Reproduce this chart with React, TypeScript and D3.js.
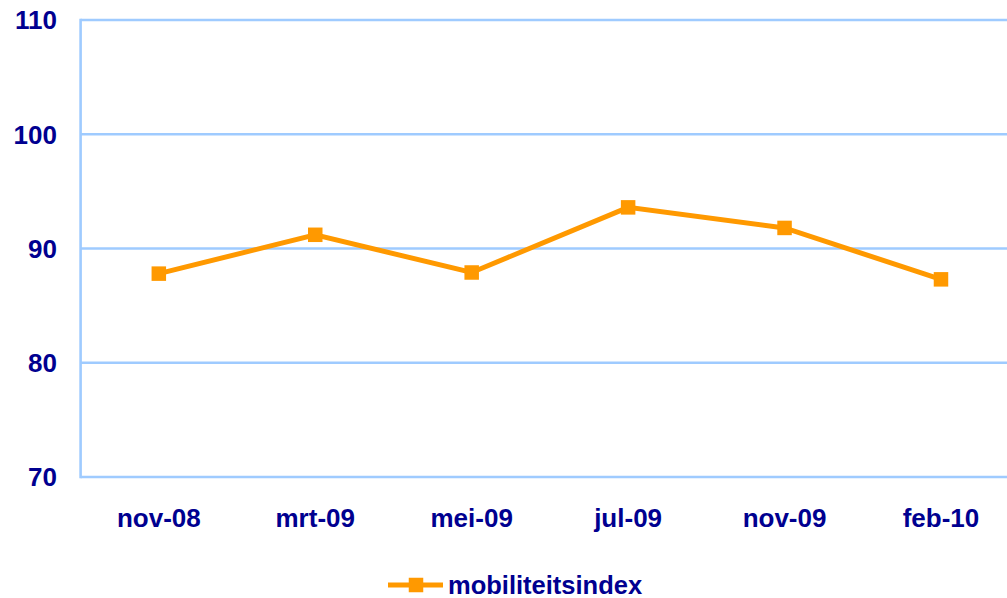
import React from "react";
import * as d3 from "d3";

const categories = ["nov-08", "mrt-09", "mei-09", "jul-09", "nov-09", "feb-10"];
const values = [87.8, 91.2, 87.9, 93.6, 91.8, 87.3];
const yTicks = [70, 80, 90, 100, 110];
const seriesName = "mobiliteitsindex";

const W = 1007;
const H = 598;
const left = 80.6;
const right = 1019.2;
const top = 20;
const bottom = 477;
const orange = "#FF9900";
const grid = "#9FCBFF";
const textColor = "#000090";
const font = "'Liberation Sans', Arial, sans-serif";

export default function App() {
  const x = d3.scaleBand<string>().domain(categories).range([left, right]);
  const y = d3.scaleLinear().domain([70, 110]).range([bottom, top]);
  const cx = (c: string) => (x(c) as number) + x.bandwidth() / 2;
  const line = d3
    .line<number>()
    .x((_, i) => cx(categories[i]))
    .y((d) => y(d));
  const ms = 14.5;
  return (
    <svg
      width={W}
      height={H}
      style={{ position: "absolute", left: 0, top: 0, display: "block", background: "#fff" }}
    >
      {yTicks.map((t) => (
        <g key={t}>
          {t > 70 && (
            <line x1={left} x2={right} y1={y(t)} y2={y(t)} stroke={grid} strokeWidth={2.6} />
          )}
          <text
            x={57}
            y={y(t)}
            dy="0.36em"
            textAnchor="end"
            fontFamily={font}
            fontWeight="bold"
            fontSize={26}
            fill={textColor}
          >
            {t}
          </text>
        </g>
      ))}
      <line x1={left} x2={left} y1={top - 1.3} y2={bottom + 1.3} stroke={grid} strokeWidth={2.6} />
      <line x1={left} x2={right} y1={bottom} y2={bottom} stroke={grid} strokeWidth={2.6} />
      {categories.map((c) => (
        <text
          key={c}
          x={cx(c)}
          y={527}
          textAnchor="middle"
          fontFamily={font}
          fontWeight="bold"
          fontSize={26}
          fill={textColor}
        >
          {c}
        </text>
      ))}
      <path d={line(values) || ""} fill="none" stroke={orange} strokeWidth={5} strokeLinejoin="miter" />
      {values.map((v, i) => (
        <rect
          key={i}
          x={cx(categories[i]) - ms / 2}
          y={y(v) - ms / 2}
          width={ms}
          height={ms}
          fill={orange}
        />
      ))}
      <g>
        <line x1={388} x2={443} y1={585} y2={585} stroke={orange} strokeWidth={5} />
        <rect x={416 - ms / 2} y={585 - ms / 2} width={ms} height={ms} fill={orange} />
        <text
          x={448}
          y={593.5}
          fontFamily={font}
          fontWeight="bold"
          fontSize={25.5}
          fill={textColor}
        >
          {seriesName}
        </text>
      </g>
    </svg>
  );
}
